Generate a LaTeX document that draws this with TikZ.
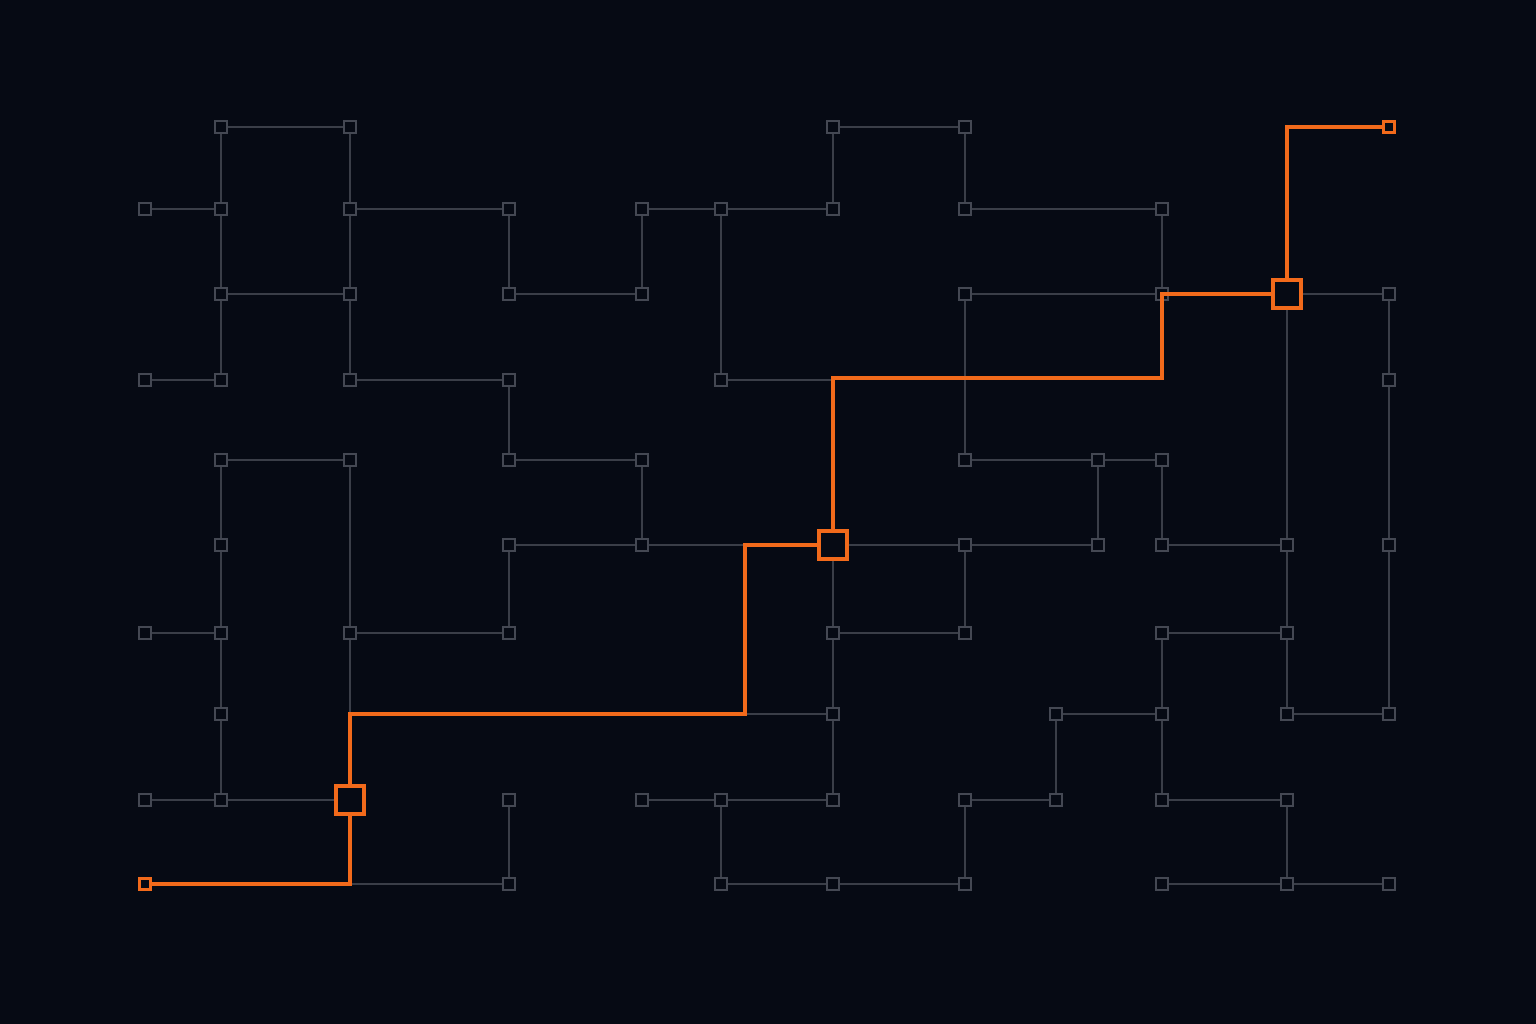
\documentclass[tikz,border=0pt]{standalone}
\usepackage{tikz}
\definecolor{bgdark}{HTML}{060A14}
\definecolor{wiregray}{HTML}{3A3E48}
\definecolor{padgray}{HTML}{444853}
\definecolor{routeorange}{HTML}{F26A1B}

\begin{document}
\begin{tikzpicture}[
                    x=0.02cm,
                    y=-0.02cm,
                    line join=miter
                ]

                \tikzstyle{pad}=[draw=padgray,fill=bgdark,line width=0.8pt,minimum size=0.24cm,inner sep=0pt]
                \tikzstyle{hub}=[draw=routeorange,fill=bgdark,line width=2pt,minimum size=0.56cm,inner sep=0pt]
                \tikzstyle{port}=[draw=routeorange,fill=bgdark,line width=1.3pt,minimum size=0.22cm,inner sep=0pt]
                \tikzstyle{wire}=[draw=wiregray,line width=0.7pt]
                \tikzstyle{every edge}=[wire]
                \tikzstyle{route}=[draw=routeorange,line width=1.9pt]

                \fill[bgdark] (0,0) rectangle (1536,1024);

                % row 1
                \node[pad]  (B1) at (221,127) {};
                \node[pad]  (C1) at (350,127) {};
                \node[pad]  (G1) at (833,127) {};
                \node[pad]  (H1) at (965,127) {};
                \node[port] (M1) at (1389,127) {};
                % row 2
                \node[pad] (A2) at (145,209) {};
                \node[pad] (B2) at (221,209) {};
                \node[pad] (C2) at (350,209) {};
                \node[pad] (D2) at (509,209) {};
                \node[pad] (E2) at (642,209) {};
                \node[pad] (F2) at (721,209) {};
                \node[pad] (G2) at (833,209) {};
                \node[pad] (H2) at (965,209) {};
                \node[pad] (K2) at (1162,209) {};
                % row 3
                \node[pad] (B3) at (221,294) {};
                \node[pad] (C3) at (350,294) {};
                \node[pad] (D3) at (509,294) {};
                \node[pad] (E3) at (642,294) {};
                \node[pad] (H3) at (965,294) {};
                \node[pad] (K3) at (1162,294) {};
                \node[hub] (L3) at (1287,294) {};
                \node[pad] (M3) at (1389,294) {};
                % row 4
                \node[pad] (A4) at (145,380) {};
                \node[pad] (B4) at (221,380) {};
                \node[pad] (C4) at (350,380) {};
                \node[pad] (D4) at (509,380) {};
                \node[pad] (F4) at (721,380) {};
                \node[pad] (M4) at (1389,380) {};
                % row 5
                \node[pad] (B5) at (221,460) {};
                \node[pad] (C5) at (350,460) {};
                \node[pad] (D5) at (509,460) {};
                \node[pad] (E5) at (642,460) {};
                \node[pad] (H5) at (965,460) {};
                \node[pad] (J5) at (1098,460) {};
                \node[pad] (K5) at (1162,460) {};
                % row 6
                \node[pad] (B6) at (221,545) {};
                \node[pad] (D6) at (509,545) {};
                \node[pad] (E6) at (642,545) {};
                \node[hub] (G6) at (833,545) {};
                \node[pad] (H6) at (965,545) {};
                \node[pad] (J6) at (1098,545) {};
                \node[pad] (K6) at (1162,545) {};
                \node[pad] (L6) at (1287,545) {};
                \node[pad] (M6) at (1389,545) {};
                % row 7
                \node[pad] (A7) at (145,633) {};
                \node[pad] (B7) at (221,633) {};
                \node[pad] (C7) at (350,633) {};
                \node[pad] (D7) at (509,633) {};
                \node[pad] (G7) at (833,633) {};
                \node[pad] (H7) at (965,633) {};
                \node[pad] (K7) at (1162,633) {};
                \node[pad] (L7) at (1287,633) {};
                % row 8
                \node[pad] (B8) at (221,714) {};
                \node[pad] (G8) at (833,714) {};
                \node[pad] (I8) at (1056,714) {};
                \node[pad] (K8) at (1162,714) {};
                \node[pad] (L8) at (1287,714) {};
                \node[pad] (M8) at (1389,714) {};
                % row 9
                \node[pad] (A9) at (145,800) {};
                \node[pad] (B9) at (221,800) {};
                \node[hub] (C9) at (350,800) {};
                \node[pad] (D9) at (509,800) {};
                \node[pad] (E9) at (642,800) {};
                \node[pad] (F9) at (721,800) {};
                \node[pad] (G9) at (833,800) {};
                \node[pad] (H9) at (965,800) {};
                \node[pad] (I9) at (1056,800) {};
                \node[pad] (K9) at (1162,800) {};
                \node[pad] (L9) at (1287,800) {};
                % row 10
                \node[port] (A10) at (145,884) {};
                \node[pad]  (D10) at (509,884) {};
                \node[pad]  (F10) at (721,884) {};
                \node[pad]  (G10) at (833,884) {};
                \node[pad]  (H10) at (965,884) {};
                \node[pad]  (K10) at (1162,884) {};
                \node[pad]  (L10) at (1287,884) {};
                \node[pad]  (M10) at (1389,884) {};

                % bends
                \coordinate (G4)  at (833,380);
                \coordinate (C8)  at (350,714);
                \coordinate (C10) at (350,884);
                \coordinate (V1)  at (745,714);
                \coordinate (V2)  at (1162,378);

                \path
                (B1) edge (C1)
                (B1) edge (B2)
                (C1) edge (C2)
                (G1) edge (H1)
                (G1) edge (G2)
                (H1) edge (H2)
                (A2) edge (B2)
                (B2) edge (B3)
                (C2) edge (D2)
                (C2) edge (C3)
                (D2) edge (D3)
                (E2) edge (F2)
                (E2) edge (E3)
                (F2) edge (G2)
                (F2) edge (F4)
                (H2) edge (K2)
                (K2) edge (K3)
                (B3) edge (C3)
                (B3) edge (B4)
                (C3) edge (C4)
                (D3) edge (E3)
                (H3) edge (K3)
                (H3) edge (H5)
                (K3) edge (L3)
                (L3) edge (M3)
                (L3) edge (L6)
                (M3) edge (M4)
                (A4) edge (B4)
                (C4) edge (D4)
                (D4) edge (D5)
                (F4) edge (G4)
                (M4) edge (M6)
                (B5) edge (C5)
                (B5) edge (B6)
                (C5) edge (C7)
                (D5) edge (E5)
                (E5) edge (E6)
                (H5) edge (J5)
                (J5) edge (K5)
                (J5) edge (J6)
                (K5) edge (K6)
                (B6) edge (B7)
                (D6) edge (E6)
                (D6) edge (D7)
                (E6) edge (G6)
                (G6) edge (H6)
                (G6) edge (G7)
                (H6) edge (J6)
                (H6) edge (H7)
                (K6) edge (L6)
                (L6) edge (L7)
                (M6) edge (M8)
                (A7) edge (B7)
                (B7) edge (B8)
                (C7) edge (D7)
                (C7) edge (C8)
                (G7) edge (H7)
                (G7) edge (G8)
                (K7) edge (L7)
                (K7) edge (K8)
                (L7) edge (L8)
                (B8) edge (B9)
                (G8) edge (V1)
                (G8) edge (G9)
                (I8) edge (K8)
                (I8) edge (I9)
                (K8) edge (K9)
                (L8) edge (M8)
                (A9) edge (B9)
                (B9) edge (C9)
                (D9) edge (D10)
                (E9) edge (F9)
                (F9) edge (G9)
                (F9) edge (F10)
                (H9) edge (I9)
                (H9) edge (H10)
                (K9) edge (L9)
                (L9) edge (L10)
                (C10) edge (D10)
                (F10) edge (G10)
                (G10) edge (H10)
                (K10) edge (L10)
                (L10) edge (M10)
                ;
                \draw[wire] (L3) |- (M1);

                % highlighted route
                \draw[route] (A10) -| (C9);
                \draw[route] (C9) -- (C8) -- (V1) |- (G6);
                \draw[route] (G6) |- (V2) |- (L3);
                \draw[route] (L3) |- (M1);
            \end{tikzpicture}
\end{document}
